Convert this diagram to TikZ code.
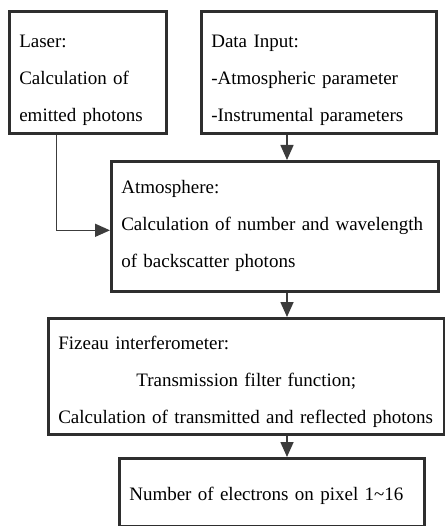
\documentclass[tikz,border=0pt]{standalone}
\usepackage{fontspec}
\setmainfont{Liberation Serif}
\usetikzlibrary{arrows.meta,positioning,calc}
\definecolor{bxline}{HTML}{2E2E2E}
\definecolor{arline}{HTML}{3C3C3C}
\newcommand{\tp}[1]{\rule{0pt}{#1}}

\begin{document}
\begin{tikzpicture}[x=1pt,y=-1pt,
  b/.style={draw=bxline,line width=2.6pt,anchor=north west,align=left,
            inner xsep=10pt,inner ysep=0pt,font=\fontsize{19}{37}\selectfont},
  a/.style={-{Triangle[length=15pt,width=13pt]},draw=arline,line width=1.6pt}
]
\useasboundingbox (0,0) rectangle (444,526);
\node[b,text width=137pt,minimum height=122pt] (laser) at (8,10)
  {\tp{29pt}Laser:\\Calculation of\\emitted photons};
\node[b,text width=215pt,minimum height=122pt] (data) at (200,10)
  {\tp{29pt}Data Input:\\-Atmospheric parameter\\-Instrumental parameters};
\node[b,text width=307pt,minimum height=130pt] (atm) at (110,160)
  {Atmosphere:\\Calculation of number and wavelength\\of backscatter photons};
\node[b,text width=376pt,minimum height=116pt] (fiz) at (47,317)
  {\tp{25pt}Fizeau interferometer:\\
   \hspace*{\fill}Transmission filter function;\hspace*{\fill}\null\\
   Calculation of transmitted and reflected photons};
\node[b,text width=285pt,minimum height=68pt] (out) at (118,457)
  {\tp{21pt}Number of electrons on pixel 1\textasciitilde16};

\coordinate (ax) at (287,0);
\draw[a] (data.south -| ax) -- (atm.north -| ax);
\draw[a] (atm.south -| ax) -- (fiz.north -| ax);
\draw[a] (fiz.south -| ax) -- (out.north -| ax);
\draw[a] ([xshift=-31.5pt]laser.south) |- ([yshift=-4pt]atm.west);
\end{tikzpicture}
\end{document}
